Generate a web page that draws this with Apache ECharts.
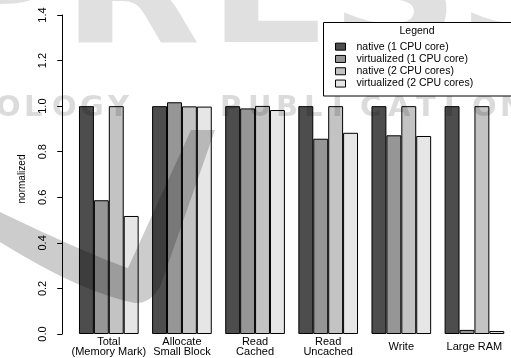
<!DOCTYPE html>
<html>
<head>
<meta charset="utf-8">
<script src="https://cdn.jsdelivr.net/npm/echarts@6/dist/echarts.min.js"></script>
<style>
  html, body { margin: 0; padding: 0; background: #fff; }
  #chart { width: 511px; height: 358px; }
</style>
</head>
<body>
<div id="chart"></div>
<script>
// benchmark categories (x axis)
const categories = ['Total\n(Memory Mark)', 'Allocate\nSmall Block', 'Read\nCached', 'Read\nUncached', 'Write', 'Large RAM'];

// normalized results per configuration
const native1 = [1.0, 1.0, 1.0, 1.0, 1.0, 1.0];
const virtual1 = [0.587, 1.017, 0.99, 0.857, 0.872, 0.018];
const native2 = [1.0, 0.999, 1.001, 1.0, 1.0, 1.0];
const virtual2 = [0.518, 0.998, 0.983, 0.883, 0.869, 0.013];

const seriesNames = ['native (1 CPU core)', 'virtualized (1 CPU core)', 'native (2 CPU cores)', 'virtualized (2 CPU cores)'];
const seriesColors = ['#4d4d4d', '#969696', '#c3c3c3', '#e6e6e6'];

// y axis ticks
const yMin = 0;
const yMax = 1.4;
const yStep = 0.2;

const font = '"Liberation Sans", Arial, Helvetica, sans-serif';

const chart = echarts.init(document.getElementById('chart'));

// quadratic curve -> points, for the watermark swoosh
function quad(p0, p1, p2, n) {
  const pts = [];
  for (let i = 0; i <= n; i++) {
    const t = i / n, u = 1 - t;
    pts.push([u * u * p0[0] + 2 * u * t * p1[0] + t * t * p2[0], u * u * p0[1] + 2 * u * t * p1[1] + t * t * p2[1]]);
  }
  return pts;
}

// publisher watermark drawn over the plot (greyed letters + swoosh)
const bigLetters = [['P', -70], ['R', 62], ['E', 208], ['S', 330], ['S', 457]];
const smallRow = 'OLOGY   PUBLICATIONS';
const watermark = [];
bigLetters.forEach(([ch, x]) => {
  watermark.push({
    type: 'text', silent: true, z: 50, x: x, y: 78, scaleX: 1.2,
    style: { text: ch, font: 'bold 150px "DejaVu Sans"', fill: 'rgba(0,0,0,0.12)', textVerticalAlign: 'bottom' }
  });
});
smallRow.split('').forEach((ch, i) => {
  if (ch === ' ') return;
  watermark.push({
    type: 'text', silent: true, z: 50, x: -4 + i * 28, y: 108,
    style: { text: ch, font: 'bold 29px "DejaVu Sans"', fill: 'rgba(0,0,0,0.14)', textVerticalAlign: 'middle' }
  });
});
const swoosh = []
  .concat(quad([0, 212], [90, 255], [128, 268], 12))
  .concat([[191, 130], [215, 130]])
  .concat(quad([160, 287], [150, 304], [135, 303], 4))
  .concat(quad([135, 303], [80, 292], [0, 242], 12));
watermark.push({
  type: 'polygon', silent: true, z: 50,
  shape: { points: swoosh },
  style: { fill: 'rgba(0,0,0,0.2)' }
});

const option = {
  animation: false,
  backgroundColor: '#fff',
  textStyle: { fontFamily: font },
  grid: { left: 72.25, top: 15, width: 441, bottom: 24 },
  legend: {
    data: seriesNames,
    orient: 'vertical',
    left: 335,
    top: 40.5,
    z: 100,
    icon: 'rect',
    itemWidth: 10,
    itemHeight: 7,
    itemGap: 0,
    padding: 0,
    itemStyle: { borderColor: '#000', borderWidth: 1 },
    textStyle: { fontFamily: font, fontSize: 10.5, color: '#000', lineHeight: 12.3, padding: [0, 0, 0, 6] }
  },
  xAxis: {
    type: 'category',
    data: categories,
    axisLine: { show: false },
    axisTick: { show: false },
    axisLabel: {
      color: '#000', fontFamily: font, fontSize: 11, lineHeight: 10.5,
      margin: 13, verticalAlign: 'middle', interval: 0
    }
  },
  yAxis: {
    type: 'value',
    min: yMin,
    max: yMax,
    interval: yStep,
    offset: 10,
    name: 'normalized',
    nameLocation: 'middle',
    nameRotate: 90,
    nameGap: 35,
    nameTextStyle: { color: '#000', fontFamily: font, fontSize: 10, padding: [0, 0, 0, -9] },
    axisLine: { show: true, lineStyle: { color: '#000', width: 1 } },
    axisTick: { show: true, length: 5, lineStyle: { color: '#000' } },
    splitLine: { show: false },
    axisLabel: {
      color: '#000', fontFamily: font, fontSize: 11, rotate: 90, margin: 14,
      formatter: v => v.toFixed(1)
    }
  },
  series: [native1, virtual1, native2, virtual2].map((data, i) => ({
    name: seriesNames[i],
    type: 'bar',
    data: data,
    barGap: '0%',
    barCategoryGap: '18.4%',
    itemStyle: { color: seriesColors[i], borderColor: '#000', borderWidth: 1 }
  })),
  graphic: watermark.concat([
    {
      type: 'rect', z: 90, silent: true,
      shape: { x: 323.5, y: 22.5, width: 200, height: 73.5 },
      style: { fill: '#fff', stroke: '#000', lineWidth: 1 }
    },
    {
      type: 'text', z: 100, silent: true, x: 417, y: 31,
      style: { text: 'Legend', font: '10.5px ' + font, fill: '#000', textAlign: 'center', textVerticalAlign: 'middle' }
    }
  ])
};

chart.setOption(option);
</script>
</body>
</html>
